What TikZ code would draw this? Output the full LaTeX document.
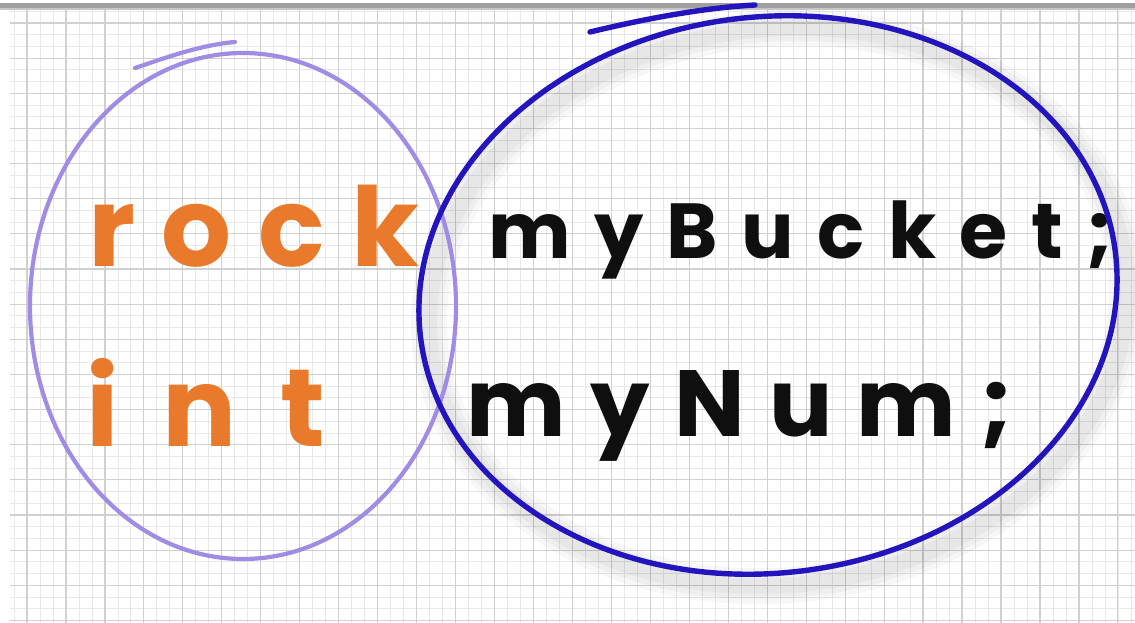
\documentclass[tikz,border=0pt]{standalone}
\usepackage{fontspec}
\newfontfamily\handO{Poppins}[LetterSpace=24]
\newfontfamily\handI{Poppins}[LetterSpace=40]
\newfontfamily\handB{Poppins}[LetterSpace=30]
\newfontfamily\handN{Poppins}[LetterSpace=26]
\definecolor{orangeC}{RGB}{233,122,44}
\definecolor{lavC}{RGB}{160,140,228}
\definecolor{blueC}{RGB}{35,20,190}
\definecolor{inkC}{RGB}{15,15,15}
\definecolor{gridMaj}{RGB}{208,208,208}
\definecolor{gridMin}{RGB}{232,232,232}
\tikzset{
  minorline/.style={draw=gridMin, line width=0.8pt},
  majorline/.style={draw=gridMaj, line width=1.2pt},
  orangetext/.style={anchor=base west, inner sep=0pt, text=orangeC, font=#1\fontsize{110}{110}\selectfont\bfseries},
  inktext/.style 2 args={anchor=base west, inner sep=0pt, text=inkC, font=#1\fontsize{#2}{#2}\selectfont\bfseries},
  lavstroke/.style={draw=lavC, line width=4.2pt, line cap=round},
  bluestroke/.style={draw=blueC, line width=5.4pt, line cap=round},
  shade/.style={draw=black, opacity=0.03, line width=#1}
}
\begin{document}
\begin{tikzpicture}[x=1pt,y=-1pt]
\useasboundingbox (0,0) rectangle (1135,623);
\fill[white] (0,0) rectangle (1135,623);
% grid
\foreach \k in {-2,...,87} {
  \draw[minorline] ({27+\k*12.987},10) -- ({27+\k*12.987},623);
}
\foreach \k in {-1,...,51} {
  \draw[minorline] (10,{23+\k*11.713}) -- (1135,{23+\k*11.713});
}
\foreach \k in {0,...,28} {
  \draw[majorline] ({27+\k*38.96},10) -- ({27+\k*38.96},623);
}
\foreach \k in {0,...,17} {
  \draw[majorline] (10,{23+\k*35.14}) -- (1135,{23+\k*35.14});
}
\fill[white] (0,0) rectangle (10,623);
\fill[white] (0,0) rectangle (1135,9);
% top bar
\fill[gray!75] (0,3.5) rectangle (1135,8.5);
\fill[gray!45] (0,8.5) rectangle (1135,10);

% blue ellipse shadow
\foreach \w in {36,26,16} {
  \draw[shade=\w pt] (778,307) ellipse [x radius=350, y radius=278, rotate=7];
}

% left lavender ellipse
\draw[lavstroke] (243,306) ellipse [x radius=213, y radius=253];
\draw[lavstroke] (135,68) .. controls (165,58) and (200,45) .. (235,42);

% texts
\node[orangetext=\handO] (rock) at (88,266) {rock};
\node[orangetext=\handI] (int) at (86,446) {int};
\node[inktext={\handB}{78}] (bucket) at (488,258) {myBucket;};
\node[inktext={\handN}{94}] (num) at (466,436) {myNum;};

% right blue ellipse
\draw[bluestroke] (768,295) ellipse [x radius=350, y radius=278, rotate=7];
\draw[bluestroke] (590,32) .. controls (640,20) and (700,8) .. (755,5);
\end{tikzpicture}
\end{document}
